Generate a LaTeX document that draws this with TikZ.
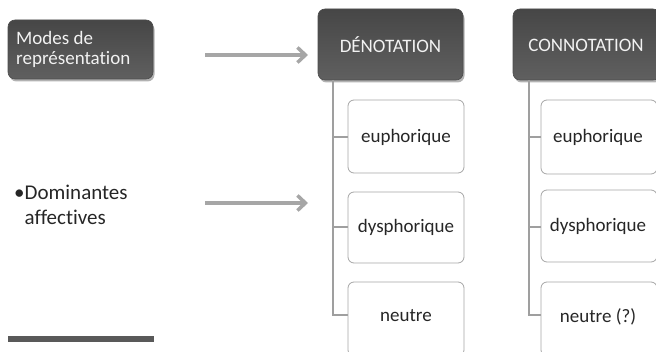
\documentclass[tikz,border=0pt]{standalone}
\usepackage{fontspec}
\setmainfont[Ligatures=NoCommon,RawFeature={-liga;-clig}]{Carlito}
\usetikzlibrary{shadows,arrows.meta}
\begin{document}
\begin{tikzpicture}[x=1pt,y=-1pt,
  darkbox/.style={rounded corners=7pt, top color=gray!55!black, bottom color=gray!75!black, draw=gray!60!black, line width=0.6pt,
    drop shadow={shadow xshift=1.5pt, shadow yshift=-2.5pt, fill=black, opacity=0.3}},
  childbox/.style={rounded corners=6pt, draw=gray!70, fill=white, line width=0.8pt},
  bigarrow/.style={draw=gray!70, line width=4pt, -{Straight Barb[length=8pt,width=15pt,line width=3.5pt]}},
  branch/.style={draw=gray!75, line width=1.6pt},
  lbl/.style={font=\fontsize{19}{21}\selectfont, text=gray!10},
  clbl/.style={font=\fontsize{19}{21}\selectfont, text=black!85}]
\useasboundingbox (0,0) rectangle (656,352);
% left boxes
\path[darkbox] (8,20) rectangle (153,79);
\node[lbl, anchor=west, align=left, inner sep=0pt, font=\fontsize{19}{20}\selectfont] (modes) at (16,49) {Modes de\\représentation};
\coordinate (modesR) at (153,49);
% denotation
\path[darkbox] (318,9) rectangle (463,80);
\node[lbl, inner sep=0pt] (den) at (390.5,45) {DÉNOTATION};
\path[darkbox] (513,9) rectangle (660,80);
\node[lbl, inner sep=0pt] (con) at (586,45) {CONNOTATION};
% arrows
\coordinate (a1s) at (205,55);
\coordinate (a1e) at (308,55);
\draw[bigarrow] (a1s) -- (a1e);
\coordinate (a2s) at (205,203);
\coordinate (a2e) at (308,203);
\draw[bigarrow] (a2s) -- (a2e);
% dominantes
\node[font=\fontsize{21}{25}\selectfont, text=black!85, anchor=west, align=left, inner sep=0pt] (dom) at (14,205) {\textbullet Dominantes\\\hphantom{\textbullet}affectives};
% bottom bar
\draw[draw=gray!70!black, line width=6pt, drop shadow={shadow yshift=-2pt, opacity=0.2}] (8,339) -- (154,339);
\coordinate (bar) at (8,339);
% denotation children
\coordinate (dtop) at (333,80);
\draw[branch] (dtop) -- (333,315) -- (348,315);
\draw[branch] (333,137) -- (348,137);
\draw[branch] (333,227) -- (348,227);
\path[childbox] (348,100) rectangle (464,173);
\node[clbl] (d1) at (406,137) {euphorique};
\path[childbox] (348,192) rectangle (464,263);
\node[clbl] (d2) at (406,227) {dysphorique};
\path[childbox] (348,282) rectangle (464,356);
\node[clbl] (d3) at (406,316) {neutre};
% connotation children
\coordinate (ctop) at (529,80);
\draw[branch] (ctop) -- (529,315) -- (541,315);
\draw[branch] (529,137) -- (541,137);
\draw[branch] (529,227) -- (541,227);
\path[childbox] (541,100) rectangle (657,174);
\node[clbl] (c1) at (598,137) {euphorique};
\path[childbox] (541,190) rectangle (657,262);
\node[clbl] (c2) at (598,226) {dysphorique};
\path[childbox] (541,282) rectangle (657,356);
\node[clbl] (c3) at (598,317) {neutre (?)};
\end{tikzpicture}
\end{document}
